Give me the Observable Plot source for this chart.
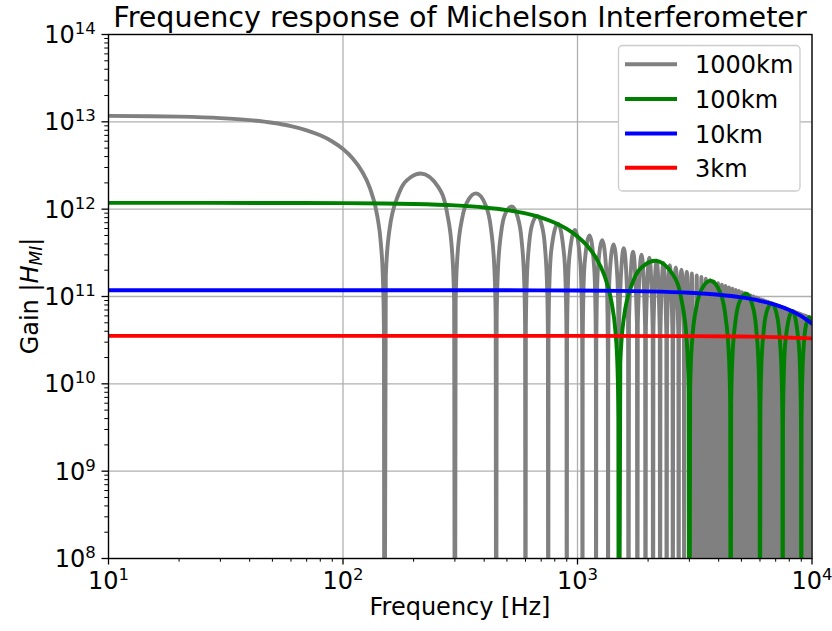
<!DOCTYPE html>
<html><head><meta charset="utf-8">
<script src="https://cdn.jsdelivr.net/npm/d3@7"></script>
<script src="https://cdn.jsdelivr.net/npm/@observablehq/plot@0.6"></script>
<style>
html,body{margin:0;padding:0;background:#fff;}
#chart{position:relative;width:832px;height:631px;}
</style></head><body><div id="chart"></div>
<script>
const chartTitle = "Frequency response of Michelson Interferometer";
const xLabel = "Frequency [Hz]";
const seriesNames = ["1000km", "100km", "10km", "3km"];
const seriesColors = ["gray", "green", "blue", "red"];
const xTicks = [10, 100, 1000, 10000];
const xTickLabels = ["10^1", "10^2", "10^3", "10^4"];
const yTicks = [1e8, 1e9, 1e10, 1e11, 1e12, 1e13, 1e14];
const yTickLabels = ["10^8", "10^9", "10^10", "10^11", "10^12", "10^13", "10^14"];

// 1000 km arm (grey); nulls drop far below the axis floor
const freq1000 = [10,15,20,30,40,50,60,70,80,90,100,110,120,130,140,145,148,149.5,
 150,152.25,157.5,172.5,195,214.5,255,277.5,292.5,297.75,
 300,302.25,307.5,322.5,345,369,405,427.5,442.5,447.75,
 450,452.25,457.5,472.5,495,525,555,577.5,592.5,597.75,
 600,602.25,607.5,622.5,645,675,705,727.5,742.5,747.75,
 750,752.25,757.5,772.5,825,877.5,892.5,897.75,
 900,902.25,907.5,922.5,975,1027.5,1042.5,1047.75,
 1050,1052.25,1057.5,1072.5,1125,1177.5,1192.5,1197.75,
 1200,1202.25,1207.5,1222.5,1275,1327.5,1342.5,1347.75,
 1350,1352.25,1357.5,1372.5,1425,1477.5,1492.5,1497.75,
 1500,1507.5,1575,1642.5, 1650,1657.5,1725,1792.5, 1800,1807.5,1875,1942.5,
 1950,1957.5,2025,2092.5, 2100,2107.5,2175,2242.5, 2250,2257.5,2325,2392.5,
 2400,2407.5,2475,2542.5, 2550,2557.5,2625,2692.5, 2700,2707.5,2775,2842.5,
 2850,2857.5,2925,2992.5,
 3000,3075,3150,3225,3300,3375,3450,3525,3600,3675,3750,3825,3900,3975,4050,4125,
 4200,4275,4350,4425,4500,4575,4650,4725,4800,4875,4950,5025,5100,5175,5250,5325,
 5400,5475,5550,5625,5700,5775,5850,5925,6000,6075,6150,6225,6300,6375,6450,6525,
 6600,6675,6750,6825,6900,6975,7050,7125,7200,7275,7350,7425,7500,7575,7650,7725,
 7800,7875,7950,8025,8100,8175,8250,8325,8400,8475,8550,8625,8700,8775,8850,8925,
 9000,9075,9150,9225,9300,9375,9450,9525,9600,9675,9750,9825,9900,9975,10000];
const gain1000 = [1.1714e13,1.1607e13,1.1458e13,1.1039e13,1.0467e13,9.758e12,8.931e12,8.005e12,7.004e12,5.954e12,4.879e12,3.806e12,2.760e12,1.763e12,8.37e11,4.06e11,1.59e11,3.95e10,
 1e5,1.743e11,5.596e11,1.4828e12,2.3374e12,2.5633e12,1.7874e12,9.217e11,3.013e11,8.914e10,
 1e5,8.781e10,2.866e11,7.931e11,1.3212e12,1.5148e12,1.1254e12,5.983e11,1.9917e11,5.928e10,
 1e5,5.869e10,1.9264e11,5.413e11,9.208e11,1.0731e12,8.213e11,4.429e11,1.4875e11,4.440e10,
 1e5,4.407e10,1.4508e11,4.109e11,7.067e11,8.347e11,6.465e11,3.516e11,1.1870e11,3.550e10,
 1e5,3.528e10,1.1635e11,3.311e11,6.829e11,2.915e11,9.875e10,2.956e10,
 1e5,2.942e10,9.712e10,2.773e11,5.778e11,2.489e11,8.454e10,2.533e10,
 1e5,2.522e10,8.334e10,2.385e11,5.008e11,2.172e11,7.391e10,2.216e10,
 1e5,2.208e10,7.299e10,2.092e11,4.419e11,1.9268e11,6.565e10,1.9694e10,
 1e5,1.9628e10,6.492e10,1.8636e11,3.954e11,1.7311e11,5.905e10,1.7721e10,
 1e5,5.846e10,3.577e11,5.366e10, 1e5,5.317e10,3.266e11,4.917e10, 1e5,4.876e10,3.005e11,4.537e10,
 1e5,4.502e10,2.782e11,4.212e10, 1e5,4.182e10,2.590e11,3.930e10, 1e5,3.904e10,2.423e11,3.684e10,
 1e5,3.661e10,2.276e11,3.466e10, 1e5,3.446e10,2.146e11,3.273e10, 1e5,3.255e10,2.030e11,3.101e10,
 1e5,3.084e10,1.9262e11,2.945e10,
 1e5,1.8322e11,1e5,1.7470e11,1e5,1.6693e11,1e5,1.5983e11,1e5,1.5331e11,1e5,1.4729e11,1e5,1.4174e11,1e5,1.3658e11,
 1e5,1.3179e11,1e5,1.2732e11,1e5,1.2315e11,1e5,1.1924e11,1e5,1.1557e11,1e5,1.1212e11,1e5,1.0887e11,1e5,1.0580e11,
 1e5,1.0290e11,1e5,1.0016e11,1e5,9.756e10,1e5,9.509e10,1e5,9.274e10,1e5,9.051e10,1e5,8.838e10,1e5,8.634e10,
 1e5,8.440e10,1e5,8.255e10,1e5,8.077e10,1e5,7.907e10,1e5,7.744e10,1e5,7.588e10,1e5,7.438e10,1e5,7.293e10,
 1e5,7.154e10,1e5,7.021e10,1e5,6.892e10,1e5,6.768e10,1e5,6.648e10,1e5,6.532e10,1e5,6.421e10,1e5,6.313e10,
 1e5,6.208e10,1e5,6.107e10,1e5,6.010e10,1e5,5.915e10,1e5,5.823e10,1e5,5.734e10,1e5,5.648e10,4.879e10];

// 100 km arm (green)
const freq100 = [10,50,100,150,200,300,400,500,600,700,800,900,1000,1100,1200,1300,1400,1450,1480,1495,
 1500,1522.5,1575,1725,1950,2145,2550,2775,2925,2977.5,
 3000,3022.5,3075,3225,3450,3690,4050,4275,4425,4477.5,
 4500,4522.5,4575,4725,4950,5250,5550,5775,5925,5977.5,
 6000,6022.5,6075,6225,6450,6750,7050,7275,7425,7477.5,
 7500,7522.5,7575,7725,8250,8775,8925,8977.5,
 9000,9022.5,9075,9225,9450,9750,9900,10000];
const gain100 = [1.1799e12,1.1778e12,1.1714e12,1.1607e12,1.1458e12,1.1039e12,1.0467e12,9.758e11,8.931e11,8.005e11,7.004e11,5.954e11,4.879e11,3.806e11,2.760e11,1.763e11,8.37e10,4.06e10,1.59e10,3.95e9,
 1e5,1.743e10,5.596e10,1.4828e11,2.3374e11,2.5633e11,1.7874e11,9.217e10,3.013e10,8.914e9,
 1e5,8.781e9,2.866e10,7.931e10,1.3212e11,1.5148e11,1.1254e11,5.983e10,1.9917e10,5.928e9,
 1e5,5.869e9,1.9264e10,5.413e10,9.208e10,1.0731e11,8.213e10,4.429e10,1.4875e10,4.440e9,
 1e5,4.407e9,1.4508e10,4.109e10,7.067e10,8.347e10,6.465e10,3.516e10,1.1870e10,3.550e9,
 1e5,3.528e9,1.1635e10,3.311e10,6.829e10,2.915e10,9.875e9,2.956e9,
 1e5,2.942e9,9.712e9,2.773e10,4.823e10,5.778e10,5.412e10,4.879e10];

// 10 km arm (blue)
const freq10 = [10,100,500,1000,1500,2000,3000,4000,5000,6000,7000,8000,9000,10000];
const gain10 = [1.18e11,1.1799e11,1.1778e11,1.1714e11,1.1607e11,1.1458e11,1.1039e11,1.0467e11,9.758e10,8.931e10,8.005e10,7.004e10,5.954e10,4.879e10];

// 3 km arm (red)
const freq3 = [10,1000,3000,5000,7000,10000];
const gain3 = [3.54e10,3.5377e10,3.519e10,3.482e10,3.427e10,3.312e10];

const allFreq = [freq1000, freq100, freq10, freq3];
const allGain = [gain1000, gain100, gain10, gain3];
const tables = allFreq.map((fs, k) => fs.map((f, i) => ({f, g: allGain[k][i], s: seriesNames[k]})));

const xMinor = [];
for (const dec of [10, 100, 1000]) for (let m = 2; m <= 9; m++) xMinor.push(m * dec);
const yMinor = [];
for (const dec of [1e8, 1e9, 1e10, 1e11, 1e12, 1e13]) for (let m = 2; m <= 9; m++) yMinor.push(m * dec);

const gridStyle = {stroke: "#b0b0b0", strokeOpacity: 1, strokeWidth: 1.3};
const LW = 3.9;
const chart = Plot.plot({
  width: 832, height: 631,
  marginLeft: 108, marginRight: 20.5, marginTop: 34, marginBottom: 73,
  style: {fontFamily: "DejaVu Sans", fontSize: "24px", color: "black", background: "white", overflow: "visible"},
  x: {type: "log", domain: [10, 1e4], label: null},
  y: {type: "log", domain: [1e8, 1e14], label: null},
  marks: [
    Plot.gridX(xTicks, gridStyle),
    Plot.gridY(yTicks, gridStyle),
    ...tables.map((d, k) => Plot.line(d, {x: "f", y: "g", stroke: seriesColors[k], strokeWidth: LW, curve: "monotone-x", clip: true})),
    Plot.frame({stroke: "black", strokeWidth: 1.3}),
    Plot.axisX(xMinor, {tickSize: 3.7, strokeWidth: 1, fill: "none", label: null}),
    Plot.axisY(yMinor, {tickSize: 3.7, strokeWidth: 1, fill: "none", label: null}),
    Plot.axisX(xTicks, {tickSize: 6.5, strokeWidth: 1.3, tickPadding: 5, label: null, tickFormat: d => xTickLabels[xTicks.indexOf(d)]}),
    Plot.axisY(yTicks, {tickSize: 6.5, strokeWidth: 1.3, tickPadding: 6.3, label: null, tickFormat: d => yTickLabels[yTicks.indexOf(d)]})
  ]
});
document.getElementById("chart").append(chart);

const svg = d3.select(chart);
// superscript exponents
function sup(sel, baseY) {
  sel.each(function() {
    const t = this.textContent;
    if (!t.includes("^")) return;
    const [b, e] = t.split("^");
    const s = d3.select(this);
    s.text(null).attr("y", baseY).attr("dy", null);
    s.append("tspan").text(b);
    s.append("tspan").attr("dy", -9).attr("font-size", "16.5px").text(e);
  });
}
sup(svg.selectAll('g[aria-label="y-axis tick label"] text'), 8.5);
sup(svg.selectAll('g[aria-label="x-axis tick label"] text'), 18.5);

// title
svg.append("text").attr("x", 460).attr("y", 27).attr("text-anchor", "middle")
  .attr("font-size", "28.6px").attr("fill", "black").text(chartTitle);
// x label
svg.append("text").attr("x", 460).attr("y", 615).attr("text-anchor", "middle")
  .attr("font-size", "24px").attr("fill", "black").text(xLabel);
// y label with math
const yl = svg.append("text").attr("transform", "translate(38,296) rotate(-90)").attr("text-anchor", "middle")
  .attr("font-size", "24px").attr("fill", "black");
yl.append("tspan").text("Gain |");
yl.append("tspan").attr("font-style", "italic").text("H");
yl.append("tspan").attr("font-style", "italic").attr("font-size", "17px").attr("dy", 4).text("MI");
yl.append("tspan").attr("dy", -4).text("|");

// legend
const lg = svg.append("g");
lg.append("rect").attr("x", 618.5).attr("y", 45.5).attr("width", 181.5).attr("height", 145.5).attr("rx", 4)
  .attr("fill", "white").attr("stroke", "#cccccc").attr("stroke-width", 1.3);
const rowY = [64.3, 99, 133.5, 167.8];
seriesNames.forEach((n, i) => {
  lg.append("line").attr("x1", 625).attr("x2", 677).attr("y1", rowY[i]).attr("y2", rowY[i])
    .attr("stroke", seriesColors[i]).attr("stroke-width", LW);
  lg.append("text").attr("x", 695).attr("y", rowY[i] + 9).attr("text-anchor", "start")
    .attr("font-size", "24px").attr("fill", "black").text(n);
});
</script></body></html>
